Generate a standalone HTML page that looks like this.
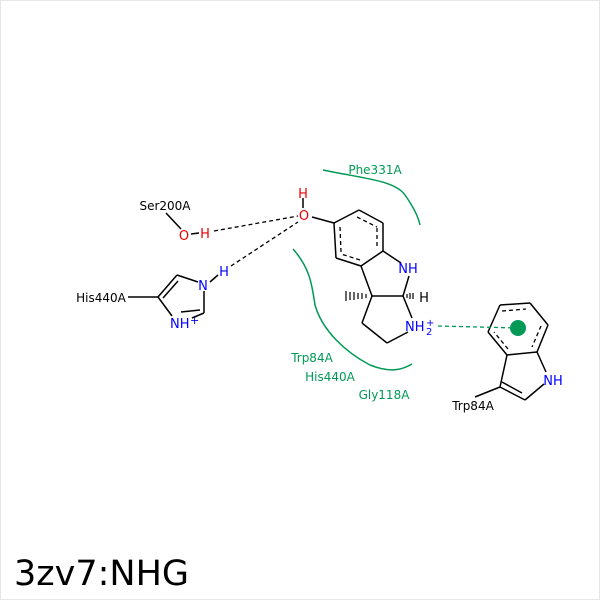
<!DOCTYPE html>
<html><head><style>body{margin:0;background:#fff}svg{display:block}</style></head><body>
<svg width="600" height="600" viewBox="0 0 600 600" xmlns="http://www.w3.org/2000/svg" font-family="'DejaVu Sans','Liberation Sans',sans-serif">
<rect x="0.5" y="0.5" width="599" height="599" fill="#fff" stroke="#e6e6e6"/>
<g fill="none" stroke="#009955" stroke-width="1.5">
<path d="M323,170 C360,178 395,180 405,195 C412,205 418,215 420,225"/>
<path d="M293,249 C310,268 312,285 315,305 C322,330 345,352 370,365 C390,373 402,370 412,364"/>
</g>
<g fill="none" stroke="#000" stroke-width="1.5">
<line x1="359" y1="210" x2="383" y2="223"/><line x1="383" y1="223" x2="383" y2="251"/>
<line x1="383" y1="251" x2="361" y2="266"/><line x1="361" y1="266" x2="336" y2="258"/>
<line x1="336" y1="258" x2="334" y2="223"/><line x1="334" y1="223" x2="359" y2="210"/>
<line x1="312" y1="217" x2="334" y2="223"/>
<line x1="383" y1="251" x2="401" y2="263"/>
<line x1="361" y1="266" x2="372" y2="296"/>
<line x1="372" y1="296" x2="403" y2="296"/>
<line x1="403" y1="296" x2="409" y2="276"/>
<line x1="403" y1="296" x2="412" y2="318"/>
<line x1="408" y1="332" x2="387" y2="343"/><line x1="387" y1="343" x2="362" y2="323"/><line x1="362" y1="323" x2="372" y2="296"/>
<line x1="303" y1="198" x2="303" y2="208"/>
<line x1="166" y1="213" x2="181" y2="229"/>
<line x1="191" y1="234" x2="199" y2="233"/>
<line x1="128" y1="297" x2="158" y2="297"/>
<line x1="158" y1="297" x2="177" y2="275"/><line x1="177" y1="275" x2="198" y2="282"/>
<line x1="204" y1="291" x2="204" y2="313"/><line x1="204" y1="313" x2="192" y2="318"/>
<line x1="158" y1="297" x2="172" y2="316"/>
<line x1="210" y1="282" x2="218" y2="275"/>
<line x1="500" y1="305" x2="530" y2="303"/><line x1="530" y1="303" x2="548" y2="325"/>
<line x1="548" y1="325" x2="537" y2="352"/><line x1="537" y1="352" x2="507" y2="355"/>
<line x1="507" y1="355" x2="488" y2="332"/><line x1="488" y1="332" x2="500" y2="305"/>
<line x1="507" y1="355" x2="500" y2="387"/><line x1="500" y1="387" x2="525" y2="400"/>
<line x1="525" y1="400" x2="544" y2="384"/><line x1="537" y1="352" x2="546" y2="372"/>
<line x1="500" y1="387" x2="475" y2="397"/>
</g>
<g fill="none" stroke="#000" stroke-width="1.3" stroke-dasharray="4,3">
<line x1="357" y1="217" x2="377" y2="227"/><line x1="377" y1="228" x2="377" y2="248"/>
<line x1="360" y1="260" x2="341" y2="254"/><line x1="341" y1="252" x2="340" y2="227"/>
<line x1="502" y1="311" x2="526" y2="309"/><line x1="541" y1="326" x2="532" y2="347"/>
<line x1="508" y1="349" x2="494" y2="332"/>
<line x1="214" y1="231" x2="298" y2="216"/>
<line x1="231" y1="266" x2="298" y2="222"/>
</g>
<line x1="163" y1="298" x2="178" y2="281" stroke="#000" stroke-width="1.5"/>
<line x1="502" y1="382" x2="522" y2="393" stroke="#000" stroke-width="1.5"/>
<line x1="181" y1="312" x2="200" y2="310" stroke="#000" stroke-width="1.5"/>
<g stroke="#000" stroke-width="1.2">
<line x1="346" y1="291" x2="346" y2="301"/><line x1="350" y1="292" x2="350" y2="300"/><line x1="354" y1="292" x2="354" y2="300"/><line x1="358" y1="293" x2="358" y2="299"/><line x1="362" y1="293" x2="362" y2="299"/><line x1="366" y1="294" x2="366" y2="298"/>
<line x1="407" y1="294" x2="407" y2="298"/><line x1="410" y1="293" x2="410" y2="299"/><line x1="413" y1="293" x2="413" y2="299"/>
</g>
<line x1="438" y1="326" x2="518" y2="328" stroke="#009955" stroke-width="1.3" stroke-dasharray="4,3"/>
<circle cx="518" cy="328" r="8" fill="#009955"/>
<g font-size="13">
<text x="304" y="220" fill="#e00" text-anchor="middle">O</text>
<text x="303" y="198" fill="#e00" text-anchor="middle">H</text>
<text x="184" y="240" fill="#e00" text-anchor="middle">O</text>
<text x="205" y="238" fill="#e00" text-anchor="middle">H</text>
<text x="408" y="273" fill="#00f" text-anchor="middle">NH</text>
<text x="424" y="302" fill="#000" text-anchor="middle">H</text>
<text x="405" y="331" fill="#00f">NH</text><text x="426" y="335" fill="#00f" font-size="10">2</text><text x="426" y="326" fill="#00f" font-size="10">+</text>
<text x="203" y="290" fill="#00f" text-anchor="middle">N</text>
<text x="224" y="276" fill="#00f" text-anchor="middle">H</text>
<text x="170" y="328" fill="#00f">NH</text><text x="190" y="324" fill="#00f" font-size="11">+</text>
<text x="553" y="385" fill="#00f" text-anchor="middle">NH</text>
</g>
<g font-size="12">
<text x="165" y="210" text-anchor="middle">Ser200A</text>
<text x="101" y="302" text-anchor="middle">His440A</text>
<text x="473" y="410" text-anchor="middle">Trp84A</text>
<g fill="#009955">
<text x="375" y="174" text-anchor="middle">Phe331A</text>
<text x="312" y="362" text-anchor="middle">Trp84A</text>
<text x="330" y="381" text-anchor="middle">His440A</text>
<text x="384" y="399" text-anchor="middle">Gly118A</text>
</g>
</g>
<text x="14" y="585" font-size="35">3zv7:NHG</text>
</svg>
</body></html>
